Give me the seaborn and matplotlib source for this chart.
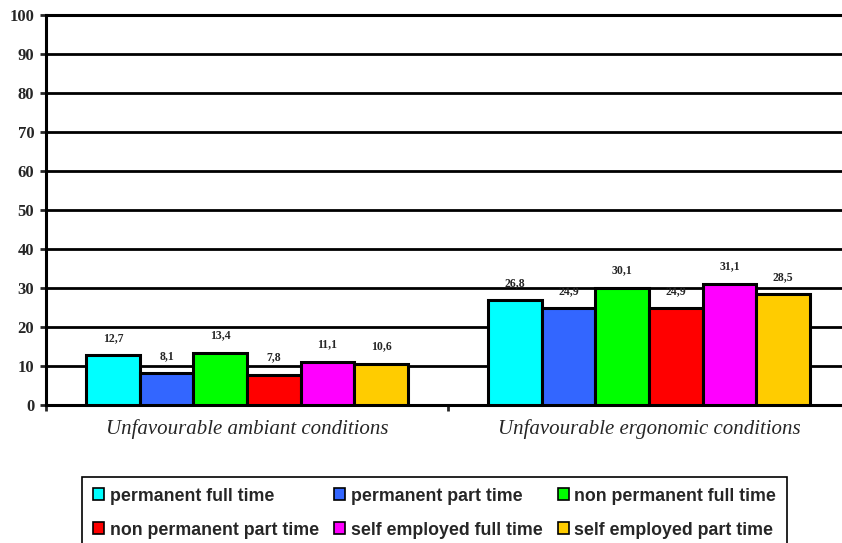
import pandas as pd
import numpy as np
import matplotlib.pyplot as plt
import seaborn as sns
from matplotlib.patches import Patch

# data
categories = ['Unfavourable ambiant conditions', 'Unfavourable ergonomic conditions']
groups = ['permanent full time', 'permanent part time', 'non permanent full time',
          'non permanent part time', 'self employed full time', 'self employed part time']
ambiant = [12.7, 8.1, 13.4, 7.8, 11.1, 10.6]
ergonomic = [26.8, 24.9, 30.1, 24.9, 31.1, 28.5]
colors = ['#00FFFF', '#3366FF', '#00FF00', '#FF0000', '#FF00FF', '#FFCC00']

df = pd.DataFrame({
    'condition': [categories[0]] * 6 + [categories[1]] * 6,
    'group': groups + groups,
    'value': ambiant + ergonomic,
})

sns.set_style('white')
plt.rcParams['font.family'] = ['Liberation Serif', 'DejaVu Serif']

fig = plt.figure(figsize=(8.42, 5.43), dpi=100)
ax = fig.add_axes([46 / 842, 1 - 405 / 543, 1 - 46 / 842, 390 / 543])

sns.barplot(data=df, x='condition', y='value', hue='group', hue_order=groups,
            palette=colors, width=0.8, edgecolor='black', linewidth=2.2,
            saturation=1, legend=False, ax=ax, zorder=3)

# value labels, comma decimals
for cont, g in zip(ax.containers, groups):
    vals = df[df.group == g]['value'].tolist()
    ax.bar_label(cont, labels=[f'{v:.1f}'.replace('.', ',') for v in vals],
                 padding=8, fontsize=8.5, fontweight='bold')

ax.set_ylim(0, 100)
ax.set_xlim(-0.5, -0.5 + 796 / 402)
ax.set_yticks(np.arange(0, 101, 10))
ax.yaxis.grid(True, color='black', linewidth=2)
ax.set_axisbelow(True)

ax.spines['right'].set_visible(False)
for s in ['left', 'bottom', 'top']:
    ax.spines[s].set_color('black')
    ax.spines[s].set_linewidth(2.2)

ax.tick_params(axis='y', direction='out', length=4.5, width=2, pad=4, labelsize=12, left=True)
for t in ax.get_yticklabels():
    t.set_fontweight('bold')
ax.tick_params(axis='x', which='major', length=0, pad=10, labelsize=15)
for t in ax.get_xticklabels():
    t.set_fontstyle('italic')
ax.set_xticks([-0.5, 0.5], minor=True)
ax.tick_params(axis='x', which='minor', direction='out', length=4, width=2, bottom=True)
ax.set_xlabel('')
ax.set_ylabel('')

# legend, reordered so it reads row by row
handles = [Patch(facecolor=c, edgecolor='black', linewidth=1.2) for c in colors]
order = [0, 3, 1, 4, 2, 5]
leg = fig.legend([handles[i] for i in order], [groups[i] for i in order],
                 loc='upper center', bbox_to_anchor=(0.516, 1 - 477 / 543), ncol=3,
                 frameon=True, fancybox=False, edgecolor='black', framealpha=1,
                 handlelength=0.65, handleheight=0.65, handletextpad=0.3,
                 columnspacing=0.85, labelspacing=0.95, borderpad=0.6,
                 borderaxespad=0,
                 prop={'family': 'Liberation Sans', 'weight': 'bold', 'size': 12.8})
leg.get_frame().set_linewidth(1.2)

fig.savefig('out.png', dpi=100)
